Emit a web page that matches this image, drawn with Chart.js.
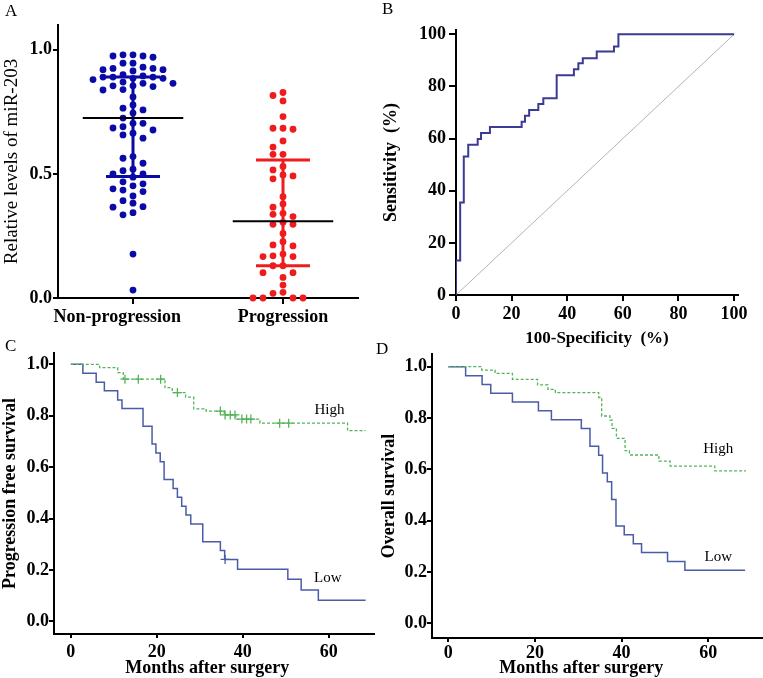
<!DOCTYPE html>
<html><head><meta charset="utf-8">
<script src="https://cdn.jsdelivr.net/npm/chart.js@4.4.1/dist/chart.umd.min.js"></script>
<style>
html,body{margin:0;padding:0;background:#fff;}
body{width:763px;height:678px;position:relative;overflow:hidden;}
canvas{position:absolute;}
.letter{position:absolute;font-family:'Liberation Serif','Times New Roman',serif;font-size:17px;line-height:17px;color:#000;}
</style></head><body>
<canvas id="cA" width="380" height="335" style="left:0;top:0"></canvas>
<canvas id="cB" width="383" height="350" style="left:380px;top:0"></canvas>
<canvas id="cC" width="380" height="343" style="left:0;top:335px"></canvas>
<canvas id="cD" width="383" height="343" style="left:380px;top:335px"></canvas>
<div class="letter" style="left:5px;top:2px">A</div>
<div class="letter" style="left:382px;top:0px">B</div>
<div class="letter" style="left:5px;top:337px">C</div>
<div class="letter" style="left:376px;top:340px">D</div>
<script>
// ---------- Panel A data ----------
const groups = ['Non-progression', 'Progression'];
const nonProgression = [0.98,0.98,0.975,0.975,0.97,0.946,0.946,0.93,0.925,0.925,0.92,0.92,0.915,0.90,0.895,
  0.89,0.89,0.89,0.885,0.885,0.88,0.87,0.865,0.865,0.855,0.855,0.852,0.84,0.838,0.81,0.778,0.765,0.758,0.745,
  0.725,0.704,0.704,0.69,0.685,0.677,0.664,0.657,0.644,0.570,0.563,0.543,0.519,0.513,0.500,0.500,0.487,0.468,
  0.460,0.452,0.440,0.435,0.429,0.411,0.392,0.382,0.368,0.366,0.344,0.335,0.177,0.032];
const progression = [0.828,0.816,0.794,0.731,0.684,0.684,0.680,0.633,0.608,0.579,0.579,0.530,0.516,0.496,0.492,
  0.480,0.408,0.379,0.366,0.341,0.337,0.328,0.305,0.297,0.297,0.26,0.227,0.214,0.21,0.177,0.170,0.167,0.167,
  0.13,0.13,0.102,0.102,0.083,0.052,0.023,0.019,0,0,0,0];
const groupMeans = [0.725, 0.309];
const groupLower = [0.49, 0.13];
const groupUpper = [0.89, 0.556];
const levelTicks = [0, 0.5, 1.0];

// ---------- Panel B data ----------
const rocFpr = [0, 0, 1.5, 2.8, 4.4, 7.8, 9.0, 12.2, 23.6, 24.8, 26.3, 29.6, 31.4, 36.2, 42.4, 44.0, 45.6, 50.6, 56.8, 58.4, 100];
const rocTpr = [0, 13.2, 35.5, 53.1, 57.6, 59.8, 62.1, 64.4, 66.5, 68.8, 71.0, 73.3, 75.5, 84.3, 86.6, 88.9, 90.8, 93.4, 95.3, 100, 100];
const rocTicks = [0, 20, 40, 60, 80, 100];

// ---------- Panel C data (progression free survival) ----------
const pfsLowTime = [0,2.8,5.9,7.8,10.9,11.9,16.8,18.9,19.8,20.8,21.7,23.8,24.8,25.8,26.8,27.9,30.7,34.8,35.8,38.8,50.5,53.6,57.6,68.6];
const pfsLowSurv = [1,0.965,0.930,0.897,0.861,0.828,0.759,0.690,0.655,0.621,0.552,0.517,0.483,0.448,0.414,0.379,0.310,0.276,0.241,0.203,0.164,0.122,0.082,0.082];
const pfsLowCensorTime = [35.9];
const pfsLowCensorSurv = [0.241];
const pfsHighTime = [0,6.7,10.9,12.2,21.9,23.6,26.7,28.6,31.5,35.7,38.4,44.0,64.4,68.6];
const pfsHighSurv = [1,0.987,0.968,0.942,0.909,0.89,0.872,0.827,0.818,0.803,0.787,0.771,0.742,0.742];
const pfsHighCensorTime = [12.6,15.7,20.9,24.8,34.8,35.9,37.1,38.2,39.8,40.9,41.9,48.6,50.7];
const pfsHighCensorSurv = [0.942,0.942,0.942,0.89,0.818,0.803,0.803,0.803,0.787,0.787,0.787,0.771,0.771];

// ---------- Panel D data (overall survival) ----------
const osLowTime = [0,4.0,7.8,9.8,14.8,20.8,23.8,30.7,32.7,34.7,35.6,36.7,37.7,38.7,40.6,42.7,44.6,50.6,54.6,68.5];
const osLowSurv = [1,0.965,0.931,0.897,0.862,0.828,0.793,0.759,0.690,0.655,0.586,0.552,0.483,0.379,0.345,0.310,0.276,0.241,0.207,0.207];
const osHighTime = [0,7.7,10.8,14.8,20.6,23.0,24.7,34.7,35.4,37.3,37.8,38.8,40.8,41.8,48.6,51.2,61.5,68.7];
const osHighSurv = [1,0.987,0.974,0.951,0.929,0.912,0.899,0.88,0.808,0.792,0.760,0.721,0.673,0.656,0.632,0.613,0.594,0.594];

const survTicks = [0, 0.2, 0.4, 0.6, 0.8, 1.0];
const monthTicks = [0, 20, 40, 60];
const curveNames = ['High', 'Low'];

// ---------- helpers ----------
const FONT = "'Liberation Serif','Times New Roman',serif";
const BLUE = '#0a0aa6', RED = '#ee1c1c', ROC = '#3b3b93', KM_LOW = '#4a5ba8', KM_HIGH = '#55b35a';

const zip = (xs, ys) => xs.map((x, i) => ({x, y: ys[i]}));

// simple beeswarm: spread equal-ish values into columns around the group centre
function swarm(values, centre, pxPerX, pxPerY, colPx, minDy) {
  const placed = [];
  return values.map(v => {
    const yPx = v * pxPerY;
    for (let k = 0; ; k++) {
      const col = k === 0 ? 0 : (k % 2 ? -Math.ceil(k / 2) : k / 2);
      if (!placed.some(p => p.col === col && Math.abs(p.yPx - yPx) < minDy)) {
        placed.push({col, yPx});
        return {x: centre + col * colPx / pxPerX, y: v};
      }
    }
  });
}

function axis(o) {
  return {
    type: 'linear', min: o.min, max: o.max,
    afterBuildTicks: s => { s.ticks = o.ticks.map(v => ({value: v})); },
    afterFit: s => { if (o.w != null) s.width = o.w; if (o.h != null) s.height = o.h; },
    border: {display: true, color: '#000', width: 2},
    grid: {display: true, drawOnChartArea: false, drawTicks: true, tickLength: o.tl, color: '#000', lineWidth: o.tw || 2},
    ticks: {autoSkip: false, maxRotation: 0, minRotation: 0, padding: o.pad, color: '#000',
      font: {family: FONT, size: o.fs || 18, weight: 'bold'}, callback: o.cb},
    title: {display: !!o.title, text: o.title, color: '#000',
      font: {family: FONT, size: o.tfs || 18, weight: o.tweight || 'bold', lineHeight: o.tlh || 1.2},
      padding: {top: o.tpt || 0, bottom: o.tpb || 0}}
  };
}

const curveText = {
  id: 'curveText',
  afterDatasetsDraw(chart, args, opts) {
    if (!opts || !opts.items) return;
    const {ctx} = chart, x = chart.scales.x, y = chart.scales.y;
    ctx.save();
    ctx.font = '15px ' + FONT; ctx.fillStyle = '#000'; ctx.textAlign = 'center'; ctx.textBaseline = 'middle';
    opts.items.forEach(it => ctx.fillText(it.text, x.getPixelForValue(it.x), y.getPixelForValue(it.y)));
    ctx.restore();
  }
};

const base = {responsive: false, animation: false, events: [],
  plugins: {legend: {display: false}, tooltip: {enabled: false}}};

// ---------- Panel A ----------
const lineDs = (pts, color, width, order) => ({data: pts, showLine: true, borderColor: color, borderWidth: width,
  pointRadius: 0, fill: false, order, clip: false});
const capHalf = 0.36, meanHalf = 0.67;
const aDatasets = [];
groups.forEach((g, i) => {
  const c = 1 + 2 * i, col = i === 0 ? BLUE : RED;
  aDatasets.push(lineDs([{x: c, y: groupLower[i]}, {x: c, y: groupUpper[i]}], col, 3, 1));
  aDatasets.push(lineDs([{x: c - capHalf, y: groupLower[i]}, {x: c + capHalf, y: groupLower[i]}], col, 3, 1));
  aDatasets.push(lineDs([{x: c - capHalf, y: groupUpper[i]}, {x: c + capHalf, y: groupUpper[i]}], col, 3, 1));
  aDatasets.push(lineDs([{x: c - meanHalf, y: groupMeans[i]}, {x: c + meanHalf, y: groupMeans[i]}], '#000', 2, 0));
});
[nonProgression, progression].forEach((vals, i) => {
  aDatasets.push({data: swarm(vals, 1 + 2 * i, 75, 248, 10, 7), pointRadius: 3.4, pointBorderWidth: 0,
    pointBackgroundColor: i === 0 ? BLUE : RED, showLine: false, order: 2, clip: false});
});
new Chart(document.getElementById('cA'), {
  type: 'scatter',
  data: {datasets: aDatasets},
  options: Object.assign({}, base, {
    layout: {padding: {left: 0, top: 25, right: 22, bottom: 0}},
    scales: {
      x: axis({min: 0, max: 4, ticks: [1, 3], h: 37, tl: 6, pad: 3,
        cb: (v, i) => i === 0 ? groups[0] + '       ' : groups[1]}),
      y: axis({min: 0, max: 1.1, ticks: levelTicks, w: 58, tl: 5, pad: 1, cb: v => v.toFixed(1),
        title: 'Relative levels of miR-203', tfs: 19, tweight: 'normal', tpt: 1})
    }
  })
});

// ---------- Panel B ----------
new Chart(document.getElementById('cB'), {
  type: 'scatter',
  data: {datasets: [
    {data: zip(rocFpr, rocTpr), showLine: true, stepped: 'before', borderColor: ROC, borderWidth: 2, pointRadius: 0, order: 0},
    {data: [{x: 0, y: 0}, {x: 100, y: 100}], showLine: true, borderColor: '#b4b4b4', borderWidth: 1, pointRadius: 0, order: 1}
  ]},
  options: Object.assign({}, base, {
    layout: {padding: {left: 0, top: 30, right: 25, bottom: 0}},
    scales: {
      x: axis({min: 0, max: 101.4, ticks: rocTicks, h: 55, tl: 6, pad: 3, cb: v => String(v),
        title: '100-Specificity  (%)', tfs: 17, tpb: 1}),
      y: axis({min: 0, max: 101.65, ticks: rocTicks, w: 76, tl: 7, pad: 3, cb: v => String(v),
        title: 'Sensitivity  (%)', tfs: 18, tpt: 1})
    }
  })
});

// ---------- Panels C & D ----------
function kmChart(id, cfg) {
  const ds = [
    {data: zip(cfg.lowT, cfg.lowS), showLine: true, stepped: 'before', borderColor: KM_LOW, borderWidth: 1.5, pointRadius: 0, order: 1},
    {data: zip(cfg.highT, cfg.highS), showLine: true, stepped: 'before', borderColor: KM_HIGH, borderWidth: 1.3,
      borderDash: [3, 2], pointRadius: 0, order: 0}
  ];
  if (cfg.highCT) ds.push({data: zip(cfg.highCT, cfg.highCS), pointStyle: 'cross', pointRadius: 4.5,
    pointBorderColor: KM_HIGH, pointBorderWidth: 1.3, showLine: false, order: 0});
  if (cfg.lowCT) ds.push({data: zip(cfg.lowCT, cfg.lowCS), pointStyle: 'cross', pointRadius: 4.5,
    pointBorderColor: KM_LOW, pointBorderWidth: 1.3, showLine: false, order: 0});
  new Chart(document.getElementById(id), {
    type: 'scatter',
    data: {datasets: ds},
    plugins: [curveText],
    options: Object.assign({}, base, {
      layout: {padding: cfg.padding},
      plugins: {legend: {display: false}, tooltip: {enabled: false}, curveText: {items: cfg.labels}},
      scales: {
        x: axis({min: cfg.xmin, max: cfg.xmax, ticks: monthTicks, h: cfg.xh, tl: 4, pad: cfg.xpad, cb: v => String(v),
          title: cfg.xtitle, tfs: 18, tlh: 1.1}),
        y: axis({min: cfg.ymin, max: cfg.ymax, ticks: survTicks, w: cfg.yw, tl: 5, pad: 0, cb: v => v.toFixed(1),
          title: cfg.ytitle, tfs: 18, tlh: cfg.ylh})
      }
    })
  });
}

kmChart('cC', {
  lowT: pfsLowTime, lowS: pfsLowSurv, highT: pfsHighTime, highS: pfsHighSurv,
  highCT: pfsHighCensorTime, highCS: pfsHighCensorSurv, lowCT: pfsLowCensorTime, lowCS: pfsLowCensorSurv,
  padding: {left: 0, top: 18, right: 3, bottom: 0},
  xmin: -3.92, xmax: 70.6, ymin: -0.049, ymax: 1.044, xh: 44, yw: 54, xpad: 4,
  xtitle: 'Months after surgery   ', ytitle: 'Progression free survival', ylh: 1.2,
  labels: [{text: curveNames[0], x: 60.2, y: 0.822}, {text: curveNames[1], x: 59.8, y: 0.168}]
});

kmChart('cD', {
  lowT: osLowTime, lowS: osLowSurv, highT: osHighTime, highS: osHighSurv,
  padding: {left: 0, top: 19, right: 1, bottom: 0},
  xmin: -3.76, xmax: 72.4, ymin: -0.057, ymax: 1.0495, xh: 40, yw: 52, xpad: 1,
  xtitle: 'Months after surgery       ', ytitle: 'Overall survival', ylh: 1.0,
  labels: [{text: curveNames[0], x: 62.3, y: 0.678}, {text: curveNames[1], x: 62.3, y: 0.26}]
});
</script>
</body></html>
